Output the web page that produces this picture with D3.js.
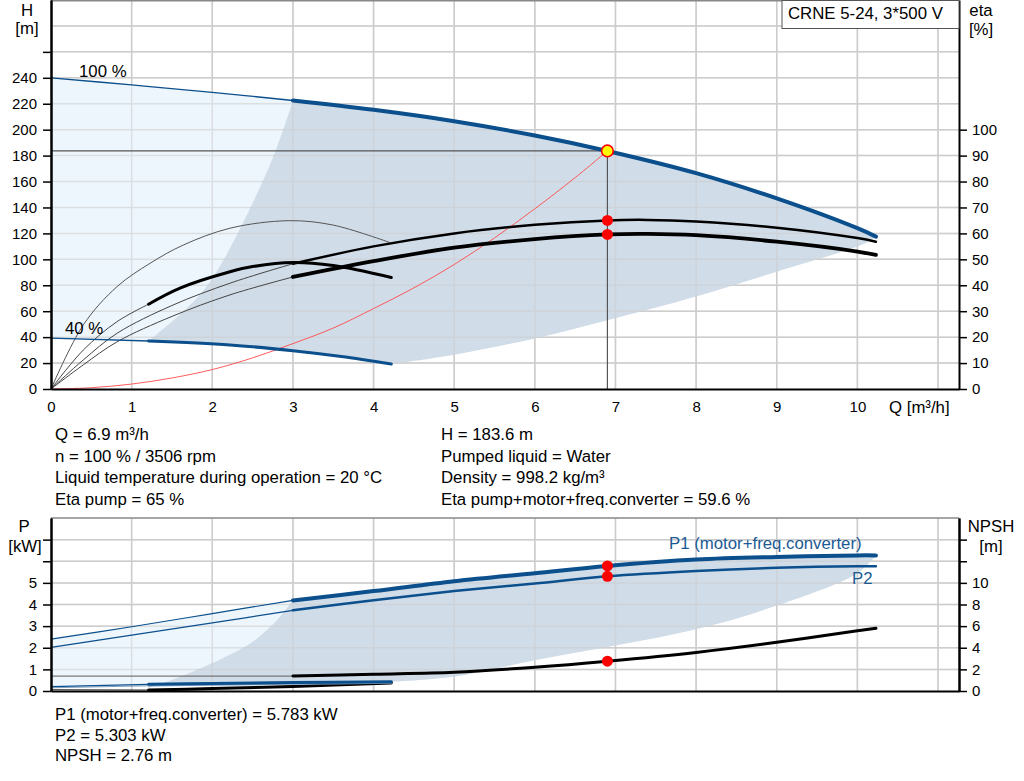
<!DOCTYPE html>
<html>
<head>
<meta charset="utf-8">
<title>CRNE 5-24 pump curve</title>
<style>
  body { margin: 0; background: #fff; }
  svg text { font-family: "Liberation Sans", Arial, sans-serif; fill: #000; }
  .grid line { stroke: #cdcdcd; stroke-width: 1.5; }
  .axis path, .axis line { stroke: #000; }
  .axis path { stroke-width: 2; }
  .axis line { stroke-width: 1.5; }
  .axis text { font-size: 15px; }
  .lbl { font-size: 16.8px; }
</style>
</head>
<body>
<svg id="chart" width="1024" height="781"></svg>
<script src="https://cdn.jsdelivr.net/npm/d3@7"></script>
<script>
// ── Data ──────────────────────────────────────────────
const qTicks     = [0, 1, 2, 3, 4, 5, 6, 7, 8, 9, 10];
const headTicks  = [0, 20, 40, 60, 80, 100, 120, 140, 160, 180, 200, 220, 240];
const etaTicks   = [0, 10, 20, 30, 40, 50, 60, 70, 80, 90, 100];
const powerTicks = [0, 1, 2, 3, 4, 5];
const npshTicks  = [0, 2, 4, 6, 8, 10];

// [Q m³/h, H m]
const head100 = [[0,240],[1,234.5],[2,228.8],[3,222.5],[4,215.3],[5,206.5],[6,195.5],[6.9,183.6],[8,166.5],[9,147],[10,124],[10.23,117.5]];
const head40  = [[0,39.3],[1.21,37],[2.22,34],[3,29.5],[3.6,25],[4.22,19.3]];
const minFlowH   = [[1.21,37],[1.64,59.7],[1.93,79],[2.14,99.6],[2.47,139.5],[2.78,183],[3,222.5]];
const rangeLowH  = [[4.22,19.3],[5,26.5],[6,39],[6.9,53],[8,71.3],[9,90.5],[10.1,112.4],[10.23,117.5]];
const systemH = [[0,0],[0.5,1],[1,3.8],[1.5,8.5],[2,15],[2.5,24],[3,35],[3.5,47],[4,62],[4.5,78],[5,96],[5.5,116.5],[6,139],[6.5,163],[6.9,183.6]];

// [Q, eta %]
const etaPump100  = [[0,0],[0.4,11.2],[0.82,21.5],[1.5,32.2],[2.22,40.8],[3,48.3],[4,55],[5,60],[6,63.3],[6.9,65],[7.4,65.2],[8,64.6],[9,62.2],[10,58.2],[10.23,56.8]];
const etaTotal100 = [[0,0],[0.4,9.3],[0.82,18.2],[1.5,28],[2.22,36.3],[3,43.2],[4,49.3],[5,54.5],[6,57.8],[6.9,59.6],[7.4,59.8],[8,59.3],[9,56.8],[10,53],[10.23,51.7]];
const etaPump40   = [[0,0],[0.4,24.7],[0.82,39.5],[1.23,48.5],[1.64,55.5],[2.22,62],[2.95,64.9],[3.5,63.2],[4.2,56.5]];
const etaTotal40  = [[0,0],[0.4,15],[0.82,26],[1.21,32.7],[1.6,38.9],[2.22,45.2],[2.5,47.2],[3,48.8],[3.5,47.6],[4.22,43]];

// [Q, P kW] and [Q, NPSH m]
const p1Full   = [[0,2.4],[1,2.97],[2,3.58],[3,4.19],[4,4.62],[5,5.08],[6,5.45],[6.9,5.783],[8,6.08],[9,6.2],[10,6.27],[10.23,6.27]];
const p2Full   = [[0,2.02],[1,2.58],[2,3.15],[3,3.73],[4,4.2],[5,4.62],[6,4.97],[6.9,5.303],[8,5.55],[9,5.7],[10,5.77],[10.23,5.77]];
const p1Low    = [[0,0.2],[1.21,0.31],[2,0.35],[3,0.39],[4.22,0.43]];
const p2Low    = [[0,0.15],[1.21,0.24],[2,0.28],[3,0.32],[4.22,0.37]];
const npshFull = [[0,1.38],[3,1.38],[4,1.55],[5,1.73],[6,2.2],[6.9,2.76],[8,3.57],[9,4.5],[10,5.57],[10.23,5.8]];
const npshLow  = [[0,0.12],[1.21,0.09],[2,0.22],[3,0.42],[4.22,0.75]];
const minFlowP  = [[1.21,0.14],[1.6,0.66],[2,1.29],[2.47,2.2],[2.67,2.8],[2.8,3.27],[3,4.19]];
const rangeLowP = [[4.22,0.43],[5,0.66],[6,1.42],[7,2.1],[8,2.85],[9,3.95],[10,5.45],[10.23,6.27]];

const duty = { q: 6.9, h: 183.6, etaPump: 65, etaTotal: 59.6, p1: 5.783, p2: 5.303, npsh: 2.76 };

const infoLeft  = ["Q = 6.9 m³/h", "n = 100 % / 3506 rpm", "Liquid temperature during operation = 20 °C", "Eta pump = 65 %"];
const infoRight = ["H = 183.6 m", "Pumped liquid = Water", "Density = 998.2 kg/m³", "Eta pump+motor+freq.converter = 59.6 %"];
const infoPower = ["P1 (motor+freq.converter) = 5.783 kW", "P2 = 5.303 kW", "NPSH = 2.76 m"];

// ── Setup ─────────────────────────────────────────────
const BLUE = "#0b4f8c", LIGHT = "#eef6fd", DARK = "#d0dce8";
const svg = d3.select("#chart");

const x    = d3.scaleLinear().domain([0, 11.26]).range([51, 959]);
const yH   = d3.scaleLinear().domain([0, 300]).range([389, 0]);
const yEta = d3.scaleLinear().domain([0, 150]).range([389, 0]);
const yP   = d3.scaleLinear().domain([0, 8]).range([691, 518]);
const yN   = d3.scaleLinear().domain([0, 16]).range([691, 518]);

const lineFor = ys => d3.line().x(d => x(d[0])).y(d => ys(d[1])).curve(d3.curveCatmullRom.alpha(0.5));

// closed outline from several curve pieces
function outline(pieces) {
  return pieces.map(([pts, ys], i) => {
    const p = lineFor(ys)(pts);
    return i ? p.replace(/^M/, "L") : p;
  }).join("") + "Z";
}

// thin lead-in up to `from`, thick afterwards
function curve(pts, ys, from, thin, thick) {
  const ln = lineFor(ys);
  if (thin) {
    svg.append("path").attr("d", ln(pts.filter(d => d[0] <= from)))
      .attr("fill", "none").attr("stroke", thin.c).attr("stroke-width", thin.w);
  }
  svg.append("path").attr("d", ln(pts.filter(d => d[0] >= from)))
    .attr("fill", "none").attr("stroke", thick.c).attr("stroke-width", thick.w)
    .attr("stroke-linecap", "round");
}

function grid(ys, yTop, yVals) {
  const g = svg.append("g").attr("class", "grid");
  g.selectAll(".v").data(d3.range(1, 12)).enter().append("line")
    .attr("x1", d => x(d)).attr("x2", d => x(d)).attr("y1", yTop).attr("y2", ys(0));
  g.selectAll(".h").data(yVals).enter().append("line")
    .attr("x1", x(0)).attr("x2", x.range()[1]).attr("y1", d => ys(d)).attr("y2", d => ys(d));
  return g;
}

// ── Top chart: head / efficiency ──────────────────────
grid(yH, 0, d3.range(20, 300, 20));

svg.append("path")
  .attr("d", outline([[head100.filter(d => d[0] <= 3), yH], [minFlowH.slice().reverse(), yH],
                      [head40.filter(d => d[0] <= 1.21).reverse(), yH]]))
  .attr("fill", LIGHT);
svg.append("path")
  .attr("d", outline([[head100.filter(d => d[0] >= 3), yH], [rangeLowH.slice().reverse(), yH],
                      [head40.filter(d => d[0] >= 1.21).reverse(), yH], [minFlowH, yH]]))
  .attr("fill", DARK);

// grid shows faintly through the fills
grid(yH, 0, d3.range(20, 300, 20)).attr("opacity", 0.55);

// duty lines
svg.append("line").attr("x1", x(0)).attr("x2", x(duty.q)).attr("y1", yH(duty.h)).attr("y2", yH(duty.h))
  .attr("stroke", "#555").attr("stroke-width", 1.2);
svg.append("line").attr("x1", x(duty.q)).attr("x2", x(duty.q)).attr("y1", yH(duty.h)).attr("y2", yH(0))
  .attr("stroke", "#555").attr("stroke-width", 1.2);

svg.append("path").attr("d", lineFor(yH)(systemH)).attr("fill", "none")
  .attr("stroke", "#ff4a4a").attr("stroke-width", 0.9);

svg.append("path").attr("d", lineFor(yEta)(etaPump40)).attr("fill", "none")
  .attr("stroke", "#555").attr("stroke-width", 1);
curve(etaTotal40, yEta, 1.21, { c: "#444", w: 1 }, { c: "#000", w: 3 });
curve(etaPump100, yEta, 3, { c: "#444", w: 1 }, { c: "#000", w: 2.5 });
curve(etaTotal100, yEta, 3, { c: "#444", w: 1 }, { c: "#000", w: 3.8 });
curve(head40, yH, 1.21, { c: BLUE, w: 1.3 }, { c: BLUE, w: 3 });
curve(head100, yH, 3, { c: BLUE, w: 1.3 }, { c: BLUE, w: 4 });

svg.selectAll(".dotEta").data([duty.etaPump, duty.etaTotal]).enter().append("circle")
  .attr("cx", x(duty.q)).attr("cy", d => yEta(d)).attr("r", 5.5).attr("fill", "#ff0000");
svg.append("circle").attr("cx", x(duty.q)).attr("cy", yH(duty.h)).attr("r", 5.8)
  .attr("fill", "#ffff00").attr("stroke", "#ff0000").attr("stroke-width", 1.6);

// frame + axes
svg.append("line").attr("x1", x(0)).attr("x2", 959).attr("y1", 0.75).attr("y2", 0.75)
  .attr("stroke", "#888").attr("stroke-width", 1.5);
svg.append("g").attr("class", "axis").attr("transform", "translate(51,0)")
  .call(d3.axisLeft(yH).tickValues(headTicks).tickSize(8).tickPadding(6).tickSizeOuter(0));
svg.append("g").attr("class", "axis").attr("transform", "translate(51,0)")
  .call(d3.axisLeft(yH).tickValues([260]).tickFormat("").tickSize(8).tickSizeOuter(0));
svg.append("g").attr("class", "axis").attr("transform", "translate(959,0)")
  .call(d3.axisRight(yEta).tickValues(etaTicks).tickSize(8).tickPadding(5).tickSizeOuter(0));
svg.append("g").attr("class", "axis").attr("transform", "translate(0,389)")
  .call(d3.axisBottom(x).tickValues(qTicks).tickSize(0).tickPadding(12).tickSizeOuter(0));

svg.append("rect").attr("x", 782).attr("y", 0.5).attr("width", 177).attr("height", 28)
  .attr("fill", "#fff").attr("stroke", "#555").attr("stroke-width", 1);
svg.append("text").attr("class", "lbl").attr("x", 788).attr("y", 19).text("CRNE 5-24, 3*500 V");

svg.append("text").attr("class", "lbl").attr("x", 27).attr("y", 16).attr("text-anchor", "middle").text("H");
svg.append("text").attr("class", "lbl").attr("x", 27).attr("y", 34).attr("text-anchor", "middle").text("[m]");
svg.append("text").attr("class", "lbl").attr("x", 981).attr("y", 16).attr("text-anchor", "middle").text("eta");
svg.append("text").attr("class", "lbl").attr("x", 981).attr("y", 35).attr("text-anchor", "middle").text("[%]");
svg.append("text").attr("class", "lbl").attr("x", 889).attr("y", 413).text("Q [m³/h]");
svg.append("text").attr("class", "lbl").attr("x", 79).attr("y", 77).text("100 %");
svg.append("text").attr("class", "lbl").attr("x", 65).attr("y", 334).text("40 %");

svg.selectAll(".infoL").data(infoLeft).enter().append("text").attr("class", "lbl")
  .attr("x", 55).attr("y", (d, i) => 440 + i * 21.5).text(d => d);
svg.selectAll(".infoR").data(infoRight).enter().append("text").attr("class", "lbl")
  .attr("x", 441).attr("y", (d, i) => 440 + i * 21.5).text(d => d);

// ── Bottom chart: power / NPSH ────────────────────────
grid(yP, 518, d3.range(1, 8));

svg.append("path")
  .attr("d", outline([[p1Full.filter(d => d[0] <= 3), yP], [minFlowP.slice().reverse(), yP],
                      [p1Low.filter(d => d[0] <= 1.21).reverse(), yP]]))
  .attr("fill", LIGHT);
svg.append("path")
  .attr("d", outline([[p1Full.filter(d => d[0] >= 3), yP], [rangeLowP.slice().reverse(), yP],
                      [p1Low.filter(d => d[0] >= 1.21).reverse(), yP], [minFlowP, yP]]))
  .attr("fill", DARK);
grid(yP, 518, d3.range(1, 8)).attr("opacity", 0.55);

curve(npshFull, yN, 3, { c: "#777", w: 1.3 }, { c: "#000", w: 3 });
curve(npshLow, yN, 1.21, { c: "#333", w: 1 }, { c: "#000", w: 3 });
curve(p2Low, yP, 1.21, { c: "#7f9fbf", w: 1 }, { c: "#7f9fbf", w: 1.5 });
curve(p1Low, yP, 1.21, { c: BLUE, w: 1.2 }, { c: BLUE, w: 3 });
curve(p2Full, yP, 3, { c: BLUE, w: 1.2 }, { c: BLUE, w: 2.5 });
curve(p1Full, yP, 3, { c: BLUE, w: 1.2 }, { c: BLUE, w: 4 });

svg.selectAll(".dotP").data([duty.p1, duty.p2]).enter().append("circle")
  .attr("cx", x(duty.q)).attr("cy", d => yP(d)).attr("r", 5.5).attr("fill", "#ff0000");
svg.append("circle").attr("cx", x(duty.q)).attr("cy", yN(duty.npsh)).attr("r", 5.5).attr("fill", "#ff0000");

svg.append("line").attr("x1", x(0)).attr("x2", 959).attr("y1", 518).attr("y2", 518)
  .attr("stroke", "#888").attr("stroke-width", 1.5);
svg.append("g").attr("class", "axis").attr("transform", "translate(51,0)")
  .call(d3.axisLeft(yP).tickValues(powerTicks).tickSize(8).tickPadding(6).tickSizeOuter(0));
svg.append("g").attr("class", "axis").attr("transform", "translate(51,0)")
  .call(d3.axisLeft(yP).tickValues([6, 7]).tickFormat("").tickSize(8).tickSizeOuter(0));
svg.append("g").attr("class", "axis").attr("transform", "translate(959,0)")
  .call(d3.axisRight(yN).tickValues(npshTicks).tickSize(8).tickPadding(5).tickSizeOuter(0));
svg.append("g").attr("class", "axis").attr("transform", "translate(959,0)")
  .call(d3.axisRight(yN).tickValues([12, 14]).tickFormat("").tickSize(8).tickSizeOuter(0));
svg.append("g").attr("class", "axis").attr("transform", "translate(0,691)")
  .call(d3.axisBottom(x).tickValues([]).tickSize(0).tickSizeOuter(0));

svg.append("text").attr("class", "lbl").attr("x", 24).attr("y", 532).attr("text-anchor", "middle").text("P");
svg.append("text").attr("class", "lbl").attr("x", 25).attr("y", 552).attr("text-anchor", "middle").text("[kW]");
svg.append("text").attr("class", "lbl").attr("x", 991).attr("y", 532).attr("text-anchor", "middle").text("NPSH");
svg.append("text").attr("class", "lbl").attr("x", 991).attr("y", 552).attr("text-anchor", "middle").text("[m]");
svg.append("text").attr("class", "lbl").attr("x", 669).attr("y", 549).style("fill", "#1c5a94")
  .text("P1 (motor+freq.converter)");
svg.append("text").attr("class", "lbl").attr("x", 852).attr("y", 584).style("fill", "#1c5a94").text("P2");

svg.selectAll(".infoP").data(infoPower).enter().append("text").attr("class", "lbl")
  .attr("x", 55).attr("y", (d, i) => 720 + i * 20.7).text(d => d);
</script>
</body>
</html>
